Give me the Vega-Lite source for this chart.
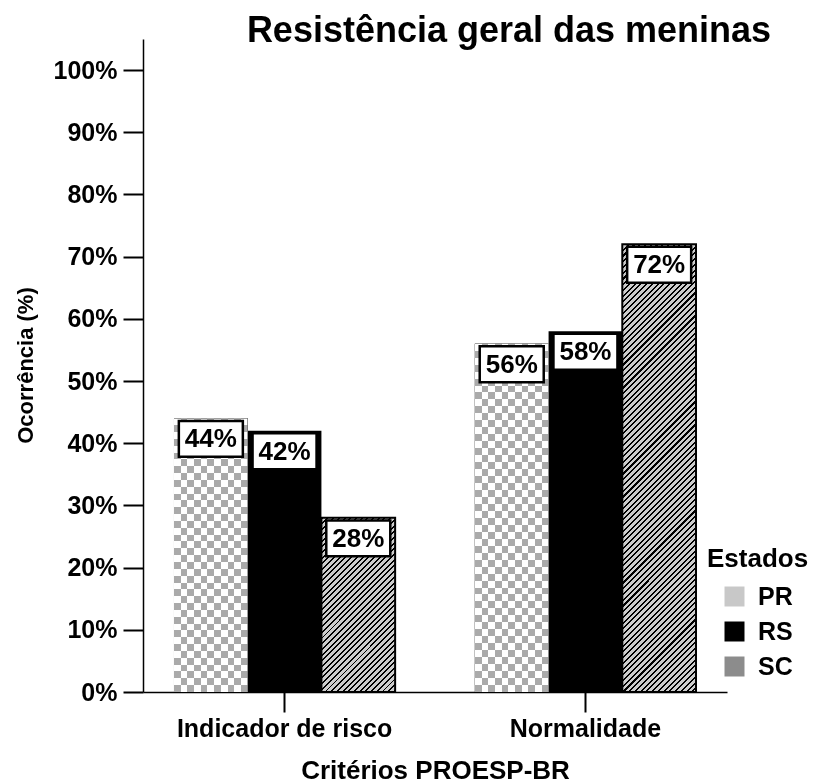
{
  "$schema": "https://vega.github.io/schema/vega-lite/v6.json",
  "autosize": "none",
  "width": 584,
  "height": 653,
  "padding": {"left": 143, "top": 39, "right": 86, "bottom": 91},
  "background": "white",
  "config": {"view": {"stroke": null}},
  "title": {"text": "Resistência geral das meninas", "font": "Liberation Sans", "fontSize": 36, "fontWeight": "bold", "color": "black", "anchor": "middle", "frame": "group", "dx": 74, "baseline": "alphabetic", "offset": 0, "dy": 39},
  "data": {"values": [
    {"criterio": "Indicador de risco", "estado": "PR", "valor": 0.44},
    {"criterio": "Indicador de risco", "estado": "RS", "valor": 0.42},
    {"criterio": "Indicador de risco", "estado": "SC", "valor": 0.28},
    {"criterio": "Normalidade", "estado": "PR", "valor": 0.56},
    {"criterio": "Normalidade", "estado": "RS", "valor": 0.58},
    {"criterio": "Normalidade", "estado": "SC", "valor": 0.72}
  ]},
  "encoding": {
    "x": {"field": "criterio", "type": "nominal", "sort": ["Indicador de risco", "Normalidade"], "scale": {"paddingInner": 0.265, "paddingOuter": 0.103}, "title": "Critérios PROESP-BR",
      "axis": {"labelAngle": 0, "labelLimit": 0, "tickSize": 20, "tickWidth": 2, "tickColor": "black", "domainColor": "black", "domainWidth": 1.5, "labelFont": "Liberation Sans", "labelFontSize": 25, "labelFontWeight": "bold", "labelColor": "black", "labelPadding": 4, "titleFont": "Liberation Sans", "titleFontSize": 26, "titleFontWeight": "bold", "titleColor": "black", "titleY": 78, "titleBaseline": "middle"}},
    "xOffset": {"field": "estado", "type": "nominal", "sort": ["PR", "RS", "SC"], "scale": {"paddingInner": 0, "paddingOuter": 0}},
    "y": {"field": "valor", "type": "quantitative", "scale": {"domain": [0, 1.05], "nice": false}, "title": "Ocorrência (%)",
      "axis": {"values": [0, 0.1, 0.2, 0.3, 0.4, 0.5, 0.6, 0.7, 0.8, 0.9, 1], "format": ".0%", "grid": false, "tickSize": 20, "tickWidth": 2, "tickColor": "black", "domainColor": "black", "domainWidth": 1.5, "labelFont": "Liberation Sans", "labelFontSize": 25, "labelFontWeight": "bold", "labelColor": "black", "labelPadding": 6, "titleFont": "Liberation Sans", "titleFontSize": 22, "titleFontWeight": "bold", "titleColor": "black", "titleX": -118, "titleY": 326, "titleBaseline": "middle", "titleAngle": -90}}
  },
  "layer": [
    {
      "transform": [{"filter": "datum.estado !== 'PR'"}],
      "mark": {"type": "bar"},
      "encoding": {
        "color": {"field": "estado", "type": "nominal", "scale": {"domain": ["PR", "RS", "SC"], "range": ["#c8c8c8", "#000000", "#8c8c8c"]},
          "legend": {"orient": "none", "legendX": 564, "legendY": 507, "title": "Estados", "titleFont": "Liberation Sans", "titleFontSize": 26, "titleFontWeight": "bold", "titleColor": "black", "titlePadding": 12, "labelFont": "Liberation Sans", "labelFontSize": 25, "labelFontWeight": "bold", "labelColor": "black", "symbolType": "square", "symbolSize": 400, "symbolOffset": 15, "labelOffset": 11, "rowPadding": 9}}
      }
    },
    {
      "transform": [{"filter": "datum.estado === 'PR'"}],
      "mark": {"type": "bar"},
      "encoding": {"fill": {"value": {"gradient": "linear", "x1": 0, "y1": 0, "x2": 1, "y2": 0, "stops": [{"offset":0,"color":"#555"},{"offset":0.0909,"color":"#555"},{"offset":0.0909,"color":"#000"},{"offset":0.1818,"color":"#000"},{"offset":0.1818,"color":"#555"},{"offset":0.2727,"color":"#555"},{"offset":0.2727,"color":"#000"},{"offset":0.3636,"color":"#000"},{"offset":0.3636,"color":"#555"},{"offset":0.4545,"color":"#555"},{"offset":0.4545,"color":"#000"},{"offset":0.5455,"color":"#000"},{"offset":0.5455,"color":"#555"},{"offset":0.6364,"color":"#555"},{"offset":0.6364,"color":"#000"},{"offset":0.7273,"color":"#000"},{"offset":0.7273,"color":"#555"},{"offset":0.8182,"color":"#555"},{"offset":0.8182,"color":"#000"},{"offset":0.9091,"color":"#000"},{"offset":0.9091,"color":"#555"},{"offset":1,"color":"#555"}]}}}
    },
    {
      "transform": [{"filter": "datum.estado === 'PR'"}],
      "mark": {"type": "bar", "blend": "difference"},
      "encoding": {"fill": {
        "condition": {"test": "datum.criterio === 'Normalidade'", "value": {"gradient": "linear", "x1": 0, "y1": 0, "x2": 0, "y2": 1, "stops": [{"offset":0,"color":"#555"},{"offset":0.02,"color":"#555"},{"offset":0.02,"color":"#000"},{"offset":0.04,"color":"#000"},{"offset":0.04,"color":"#555"},{"offset":0.06,"color":"#555"},{"offset":0.06,"color":"#000"},{"offset":0.08,"color":"#000"},{"offset":0.08,"color":"#555"},{"offset":0.1,"color":"#555"},{"offset":0.1,"color":"#000"},{"offset":0.12,"color":"#000"},{"offset":0.12,"color":"#555"},{"offset":0.14,"color":"#555"},{"offset":0.14,"color":"#000"},{"offset":0.16,"color":"#000"},{"offset":0.16,"color":"#555"},{"offset":0.18,"color":"#555"},{"offset":0.18,"color":"#000"},{"offset":0.2,"color":"#000"},{"offset":0.2,"color":"#555"},{"offset":0.22,"color":"#555"},{"offset":0.22,"color":"#000"},{"offset":0.24,"color":"#000"},{"offset":0.24,"color":"#555"},{"offset":0.26,"color":"#555"},{"offset":0.26,"color":"#000"},{"offset":0.28,"color":"#000"},{"offset":0.28,"color":"#555"},{"offset":0.3,"color":"#555"},{"offset":0.3,"color":"#000"},{"offset":0.32,"color":"#000"},{"offset":0.32,"color":"#555"},{"offset":0.34,"color":"#555"},{"offset":0.34,"color":"#000"},{"offset":0.36,"color":"#000"},{"offset":0.36,"color":"#555"},{"offset":0.38,"color":"#555"},{"offset":0.38,"color":"#000"},{"offset":0.4,"color":"#000"},{"offset":0.4,"color":"#555"},{"offset":0.42,"color":"#555"},{"offset":0.42,"color":"#000"},{"offset":0.44,"color":"#000"},{"offset":0.44,"color":"#555"},{"offset":0.46,"color":"#555"},{"offset":0.46,"color":"#000"},{"offset":0.48,"color":"#000"},{"offset":0.48,"color":"#555"},{"offset":0.5,"color":"#555"},{"offset":0.5,"color":"#000"},{"offset":0.52,"color":"#000"},{"offset":0.52,"color":"#555"},{"offset":0.54,"color":"#555"},{"offset":0.54,"color":"#000"},{"offset":0.56,"color":"#000"},{"offset":0.56,"color":"#555"},{"offset":0.58,"color":"#555"},{"offset":0.58,"color":"#000"},{"offset":0.6,"color":"#000"},{"offset":0.6,"color":"#555"},{"offset":0.62,"color":"#555"},{"offset":0.62,"color":"#000"},{"offset":0.64,"color":"#000"},{"offset":0.64,"color":"#555"},{"offset":0.66,"color":"#555"},{"offset":0.66,"color":"#000"},{"offset":0.68,"color":"#000"},{"offset":0.68,"color":"#555"},{"offset":0.7,"color":"#555"},{"offset":0.7,"color":"#000"},{"offset":0.72,"color":"#000"},{"offset":0.72,"color":"#555"},{"offset":0.74,"color":"#555"},{"offset":0.74,"color":"#000"},{"offset":0.76,"color":"#000"},{"offset":0.76,"color":"#555"},{"offset":0.78,"color":"#555"},{"offset":0.78,"color":"#000"},{"offset":0.8,"color":"#000"},{"offset":0.8,"color":"#555"},{"offset":0.82,"color":"#555"},{"offset":0.82,"color":"#000"},{"offset":0.84,"color":"#000"},{"offset":0.84,"color":"#555"},{"offset":0.86,"color":"#555"},{"offset":0.86,"color":"#000"},{"offset":0.88,"color":"#000"},{"offset":0.88,"color":"#555"},{"offset":0.9,"color":"#555"},{"offset":0.9,"color":"#000"},{"offset":0.92,"color":"#000"},{"offset":0.92,"color":"#555"},{"offset":0.94,"color":"#555"},{"offset":0.94,"color":"#000"},{"offset":0.96,"color":"#000"},{"offset":0.96,"color":"#555"},{"offset":0.98,"color":"#555"},{"offset":0.98,"color":"#000"},{"offset":1,"color":"#000"}]}},
        "value": {"gradient": "linear", "x1": 0, "y1": 0, "x2": 0, "y2": 1, "stops": [{"offset":0,"color":"#555"},{"offset":0.025,"color":"#555"},{"offset":0.025,"color":"#000"},{"offset":0.05,"color":"#000"},{"offset":0.05,"color":"#555"},{"offset":0.075,"color":"#555"},{"offset":0.075,"color":"#000"},{"offset":0.1,"color":"#000"},{"offset":0.1,"color":"#555"},{"offset":0.125,"color":"#555"},{"offset":0.125,"color":"#000"},{"offset":0.15,"color":"#000"},{"offset":0.15,"color":"#555"},{"offset":0.175,"color":"#555"},{"offset":0.175,"color":"#000"},{"offset":0.2,"color":"#000"},{"offset":0.2,"color":"#555"},{"offset":0.225,"color":"#555"},{"offset":0.225,"color":"#000"},{"offset":0.25,"color":"#000"},{"offset":0.25,"color":"#555"},{"offset":0.275,"color":"#555"},{"offset":0.275,"color":"#000"},{"offset":0.3,"color":"#000"},{"offset":0.3,"color":"#555"},{"offset":0.325,"color":"#555"},{"offset":0.325,"color":"#000"},{"offset":0.35,"color":"#000"},{"offset":0.35,"color":"#555"},{"offset":0.375,"color":"#555"},{"offset":0.375,"color":"#000"},{"offset":0.4,"color":"#000"},{"offset":0.4,"color":"#555"},{"offset":0.425,"color":"#555"},{"offset":0.425,"color":"#000"},{"offset":0.45,"color":"#000"},{"offset":0.45,"color":"#555"},{"offset":0.475,"color":"#555"},{"offset":0.475,"color":"#000"},{"offset":0.5,"color":"#000"},{"offset":0.5,"color":"#555"},{"offset":0.525,"color":"#555"},{"offset":0.525,"color":"#000"},{"offset":0.55,"color":"#000"},{"offset":0.55,"color":"#555"},{"offset":0.575,"color":"#555"},{"offset":0.575,"color":"#000"},{"offset":0.6,"color":"#000"},{"offset":0.6,"color":"#555"},{"offset":0.625,"color":"#555"},{"offset":0.625,"color":"#000"},{"offset":0.65,"color":"#000"},{"offset":0.65,"color":"#555"},{"offset":0.675,"color":"#555"},{"offset":0.675,"color":"#000"},{"offset":0.7,"color":"#000"},{"offset":0.7,"color":"#555"},{"offset":0.725,"color":"#555"},{"offset":0.725,"color":"#000"},{"offset":0.75,"color":"#000"},{"offset":0.75,"color":"#555"},{"offset":0.775,"color":"#555"},{"offset":0.775,"color":"#000"},{"offset":0.8,"color":"#000"},{"offset":0.8,"color":"#555"},{"offset":0.825,"color":"#555"},{"offset":0.825,"color":"#000"},{"offset":0.85,"color":"#000"},{"offset":0.85,"color":"#555"},{"offset":0.875,"color":"#555"},{"offset":0.875,"color":"#000"},{"offset":0.9,"color":"#000"},{"offset":0.9,"color":"#555"},{"offset":0.925,"color":"#555"},{"offset":0.925,"color":"#000"},{"offset":0.95,"color":"#000"},{"offset":0.95,"color":"#555"},{"offset":0.975,"color":"#555"},{"offset":0.975,"color":"#000"},{"offset":1,"color":"#000"}]}
      }}
    },
    {
      "transform": [{"filter": "datum.estado === 'PR'"}],
      "mark": {"type": "bar", "blend": "difference"},
      "encoding": {"fill": {"value": "#ffffff"}}
    },
    {
      "transform": [{"filter": "datum.estado === 'SC'"}],
      "mark": {"type": "bar", "stroke": "black", "strokeWidth": 2},
      "encoding": {"fill": {
        "condition": {"test": "datum.criterio === 'Normalidade'", "value": {"gradient": "linear", "x1": 0, "y1": 0, "x2": 0.1867, "y2": 1.1339, "stops": [{"offset":0,"color":"#000"},{"offset":0.004,"color":"#000"},{"offset":0.004,"color":"#ccc"},{"offset":0.011,"color":"#ccc"},{"offset":0.011,"color":"#000"},{"offset":0.015,"color":"#000"},{"offset":0.015,"color":"#ccc"},{"offset":0.022,"color":"#ccc"},{"offset":0.022,"color":"#000"},{"offset":0.026,"color":"#000"},{"offset":0.026,"color":"#ccc"},{"offset":0.033,"color":"#ccc"},{"offset":0.033,"color":"#000"},{"offset":0.037,"color":"#000"},{"offset":0.037,"color":"#ccc"},{"offset":0.044,"color":"#ccc"},{"offset":0.044,"color":"#000"},{"offset":0.048,"color":"#000"},{"offset":0.048,"color":"#ccc"},{"offset":0.055,"color":"#ccc"},{"offset":0.055,"color":"#000"},{"offset":0.059,"color":"#000"},{"offset":0.059,"color":"#ccc"},{"offset":0.066,"color":"#ccc"},{"offset":0.066,"color":"#000"},{"offset":0.07,"color":"#000"},{"offset":0.07,"color":"#ccc"},{"offset":0.077,"color":"#ccc"},{"offset":0.077,"color":"#000"},{"offset":0.081,"color":"#000"},{"offset":0.081,"color":"#ccc"},{"offset":0.088,"color":"#ccc"},{"offset":0.088,"color":"#000"},{"offset":0.092,"color":"#000"},{"offset":0.092,"color":"#ccc"},{"offset":0.099,"color":"#ccc"},{"offset":0.099,"color":"#000"},{"offset":0.103,"color":"#000"},{"offset":0.103,"color":"#ccc"},{"offset":0.11,"color":"#ccc"},{"offset":0.11,"color":"#000"},{"offset":0.114,"color":"#000"},{"offset":0.114,"color":"#ccc"},{"offset":0.121,"color":"#ccc"},{"offset":0.121,"color":"#000"},{"offset":0.125,"color":"#000"},{"offset":0.125,"color":"#ccc"},{"offset":0.132,"color":"#ccc"},{"offset":0.132,"color":"#000"},{"offset":0.136,"color":"#000"},{"offset":0.136,"color":"#ccc"},{"offset":0.143,"color":"#ccc"},{"offset":0.143,"color":"#000"},{"offset":0.147,"color":"#000"},{"offset":0.147,"color":"#ccc"},{"offset":0.154,"color":"#ccc"},{"offset":0.154,"color":"#000"},{"offset":0.158,"color":"#000"},{"offset":0.158,"color":"#ccc"},{"offset":0.165,"color":"#ccc"},{"offset":0.165,"color":"#000"},{"offset":0.169,"color":"#000"},{"offset":0.169,"color":"#ccc"},{"offset":0.176,"color":"#ccc"},{"offset":0.176,"color":"#000"},{"offset":0.18,"color":"#000"},{"offset":0.18,"color":"#ccc"},{"offset":0.187,"color":"#ccc"},{"offset":0.187,"color":"#000"},{"offset":0.191,"color":"#000"},{"offset":0.191,"color":"#ccc"},{"offset":0.198,"color":"#ccc"},{"offset":0.198,"color":"#000"},{"offset":0.202,"color":"#000"},{"offset":0.202,"color":"#ccc"},{"offset":0.209,"color":"#ccc"},{"offset":0.209,"color":"#000"},{"offset":0.213,"color":"#000"},{"offset":0.213,"color":"#ccc"},{"offset":0.22,"color":"#ccc"},{"offset":0.22,"color":"#000"},{"offset":0.224,"color":"#000"},{"offset":0.224,"color":"#ccc"},{"offset":0.231,"color":"#ccc"},{"offset":0.231,"color":"#000"},{"offset":0.235,"color":"#000"},{"offset":0.235,"color":"#ccc"},{"offset":0.242,"color":"#ccc"},{"offset":0.242,"color":"#000"},{"offset":0.246,"color":"#000"},{"offset":0.246,"color":"#ccc"},{"offset":0.253,"color":"#ccc"},{"offset":0.253,"color":"#000"},{"offset":0.257,"color":"#000"},{"offset":0.257,"color":"#ccc"},{"offset":0.264,"color":"#ccc"},{"offset":0.264,"color":"#000"},{"offset":0.268,"color":"#000"},{"offset":0.268,"color":"#ccc"},{"offset":0.275,"color":"#ccc"},{"offset":0.275,"color":"#000"},{"offset":0.279,"color":"#000"},{"offset":0.279,"color":"#ccc"},{"offset":0.286,"color":"#ccc"},{"offset":0.286,"color":"#000"},{"offset":0.29,"color":"#000"},{"offset":0.29,"color":"#ccc"},{"offset":0.297,"color":"#ccc"},{"offset":0.297,"color":"#000"},{"offset":0.301,"color":"#000"},{"offset":0.301,"color":"#ccc"},{"offset":0.308,"color":"#ccc"},{"offset":0.308,"color":"#000"},{"offset":0.312,"color":"#000"},{"offset":0.312,"color":"#ccc"},{"offset":0.319,"color":"#ccc"},{"offset":0.319,"color":"#000"},{"offset":0.323,"color":"#000"},{"offset":0.323,"color":"#ccc"},{"offset":0.33,"color":"#ccc"},{"offset":0.33,"color":"#000"},{"offset":0.334,"color":"#000"},{"offset":0.334,"color":"#ccc"},{"offset":0.341,"color":"#ccc"},{"offset":0.341,"color":"#000"},{"offset":0.345,"color":"#000"},{"offset":0.345,"color":"#ccc"},{"offset":0.352,"color":"#ccc"},{"offset":0.352,"color":"#000"},{"offset":0.356,"color":"#000"},{"offset":0.356,"color":"#ccc"},{"offset":0.363,"color":"#ccc"},{"offset":0.363,"color":"#000"},{"offset":0.367,"color":"#000"},{"offset":0.367,"color":"#ccc"},{"offset":0.374,"color":"#ccc"},{"offset":0.374,"color":"#000"},{"offset":0.378,"color":"#000"},{"offset":0.378,"color":"#ccc"},{"offset":0.385,"color":"#ccc"},{"offset":0.385,"color":"#000"},{"offset":0.389,"color":"#000"},{"offset":0.389,"color":"#ccc"},{"offset":0.396,"color":"#ccc"},{"offset":0.396,"color":"#000"},{"offset":0.4,"color":"#000"},{"offset":0.4,"color":"#ccc"},{"offset":0.407,"color":"#ccc"},{"offset":0.407,"color":"#000"},{"offset":0.411,"color":"#000"},{"offset":0.411,"color":"#ccc"},{"offset":0.418,"color":"#ccc"},{"offset":0.418,"color":"#000"},{"offset":0.422,"color":"#000"},{"offset":0.422,"color":"#ccc"},{"offset":0.429,"color":"#ccc"},{"offset":0.429,"color":"#000"},{"offset":0.433,"color":"#000"},{"offset":0.433,"color":"#ccc"},{"offset":0.44,"color":"#ccc"},{"offset":0.44,"color":"#000"},{"offset":0.444,"color":"#000"},{"offset":0.444,"color":"#ccc"},{"offset":0.451,"color":"#ccc"},{"offset":0.451,"color":"#000"},{"offset":0.455,"color":"#000"},{"offset":0.455,"color":"#ccc"},{"offset":0.462,"color":"#ccc"},{"offset":0.462,"color":"#000"},{"offset":0.466,"color":"#000"},{"offset":0.466,"color":"#ccc"},{"offset":0.473,"color":"#ccc"},{"offset":0.473,"color":"#000"},{"offset":0.477,"color":"#000"},{"offset":0.477,"color":"#ccc"},{"offset":0.484,"color":"#ccc"},{"offset":0.484,"color":"#000"},{"offset":0.488,"color":"#000"},{"offset":0.488,"color":"#ccc"},{"offset":0.495,"color":"#ccc"},{"offset":0.495,"color":"#000"},{"offset":0.499,"color":"#000"},{"offset":0.499,"color":"#ccc"},{"offset":0.506,"color":"#ccc"},{"offset":0.506,"color":"#000"},{"offset":0.51,"color":"#000"},{"offset":0.51,"color":"#ccc"},{"offset":0.517,"color":"#ccc"},{"offset":0.517,"color":"#000"},{"offset":0.521,"color":"#000"},{"offset":0.521,"color":"#ccc"},{"offset":0.528,"color":"#ccc"},{"offset":0.528,"color":"#000"},{"offset":0.532,"color":"#000"},{"offset":0.532,"color":"#ccc"},{"offset":0.539,"color":"#ccc"},{"offset":0.539,"color":"#000"},{"offset":0.543,"color":"#000"},{"offset":0.543,"color":"#ccc"},{"offset":0.55,"color":"#ccc"},{"offset":0.55,"color":"#000"},{"offset":0.554,"color":"#000"},{"offset":0.554,"color":"#ccc"},{"offset":0.561,"color":"#ccc"},{"offset":0.561,"color":"#000"},{"offset":0.565,"color":"#000"},{"offset":0.565,"color":"#ccc"},{"offset":0.572,"color":"#ccc"},{"offset":0.572,"color":"#000"},{"offset":0.576,"color":"#000"},{"offset":0.576,"color":"#ccc"},{"offset":0.583,"color":"#ccc"},{"offset":0.583,"color":"#000"},{"offset":0.587,"color":"#000"},{"offset":0.587,"color":"#ccc"},{"offset":0.594,"color":"#ccc"},{"offset":0.594,"color":"#000"},{"offset":0.598,"color":"#000"},{"offset":0.598,"color":"#ccc"},{"offset":0.605,"color":"#ccc"},{"offset":0.605,"color":"#000"},{"offset":0.609,"color":"#000"},{"offset":0.609,"color":"#ccc"},{"offset":0.616,"color":"#ccc"},{"offset":0.616,"color":"#000"},{"offset":0.62,"color":"#000"},{"offset":0.62,"color":"#ccc"},{"offset":0.627,"color":"#ccc"},{"offset":0.627,"color":"#000"},{"offset":0.631,"color":"#000"},{"offset":0.631,"color":"#ccc"},{"offset":0.638,"color":"#ccc"},{"offset":0.638,"color":"#000"},{"offset":0.642,"color":"#000"},{"offset":0.642,"color":"#ccc"},{"offset":0.649,"color":"#ccc"},{"offset":0.649,"color":"#000"},{"offset":0.653,"color":"#000"},{"offset":0.653,"color":"#ccc"},{"offset":0.66,"color":"#ccc"},{"offset":0.66,"color":"#000"},{"offset":0.664,"color":"#000"},{"offset":0.664,"color":"#ccc"},{"offset":0.671,"color":"#ccc"},{"offset":0.671,"color":"#000"},{"offset":0.675,"color":"#000"},{"offset":0.675,"color":"#ccc"},{"offset":0.682,"color":"#ccc"},{"offset":0.682,"color":"#000"},{"offset":0.686,"color":"#000"},{"offset":0.686,"color":"#ccc"},{"offset":0.693,"color":"#ccc"},{"offset":0.693,"color":"#000"},{"offset":0.697,"color":"#000"},{"offset":0.697,"color":"#ccc"},{"offset":0.704,"color":"#ccc"},{"offset":0.704,"color":"#000"},{"offset":0.708,"color":"#000"},{"offset":0.708,"color":"#ccc"},{"offset":0.715,"color":"#ccc"},{"offset":0.715,"color":"#000"},{"offset":0.719,"color":"#000"},{"offset":0.719,"color":"#ccc"},{"offset":0.726,"color":"#ccc"},{"offset":0.726,"color":"#000"},{"offset":0.73,"color":"#000"},{"offset":0.73,"color":"#ccc"},{"offset":0.737,"color":"#ccc"},{"offset":0.737,"color":"#000"},{"offset":0.741,"color":"#000"},{"offset":0.741,"color":"#ccc"},{"offset":0.748,"color":"#ccc"},{"offset":0.748,"color":"#000"},{"offset":0.752,"color":"#000"},{"offset":0.752,"color":"#ccc"},{"offset":0.759,"color":"#ccc"},{"offset":0.759,"color":"#000"},{"offset":0.763,"color":"#000"},{"offset":0.763,"color":"#ccc"},{"offset":0.77,"color":"#ccc"},{"offset":0.77,"color":"#000"},{"offset":0.774,"color":"#000"},{"offset":0.774,"color":"#ccc"},{"offset":0.781,"color":"#ccc"},{"offset":0.781,"color":"#000"},{"offset":0.785,"color":"#000"},{"offset":0.785,"color":"#ccc"},{"offset":0.792,"color":"#ccc"},{"offset":0.792,"color":"#000"},{"offset":0.796,"color":"#000"},{"offset":0.796,"color":"#ccc"},{"offset":0.803,"color":"#ccc"},{"offset":0.803,"color":"#000"},{"offset":0.807,"color":"#000"},{"offset":0.807,"color":"#ccc"},{"offset":0.814,"color":"#ccc"},{"offset":0.814,"color":"#000"},{"offset":0.818,"color":"#000"},{"offset":0.818,"color":"#ccc"},{"offset":0.825,"color":"#ccc"},{"offset":0.825,"color":"#000"},{"offset":0.829,"color":"#000"},{"offset":0.829,"color":"#ccc"},{"offset":0.836,"color":"#ccc"},{"offset":0.836,"color":"#000"},{"offset":0.84,"color":"#000"},{"offset":0.84,"color":"#ccc"},{"offset":0.847,"color":"#ccc"},{"offset":0.847,"color":"#000"},{"offset":0.851,"color":"#000"},{"offset":0.851,"color":"#ccc"},{"offset":0.858,"color":"#ccc"},{"offset":0.858,"color":"#000"},{"offset":0.862,"color":"#000"},{"offset":0.862,"color":"#ccc"},{"offset":0.869,"color":"#ccc"},{"offset":0.869,"color":"#000"},{"offset":0.873,"color":"#000"},{"offset":0.873,"color":"#ccc"},{"offset":0.88,"color":"#ccc"},{"offset":0.88,"color":"#000"},{"offset":0.884,"color":"#000"},{"offset":0.884,"color":"#ccc"},{"offset":0.891,"color":"#ccc"},{"offset":0.891,"color":"#000"},{"offset":0.895,"color":"#000"},{"offset":0.895,"color":"#ccc"},{"offset":0.902,"color":"#ccc"},{"offset":0.902,"color":"#000"},{"offset":0.906,"color":"#000"},{"offset":0.906,"color":"#ccc"},{"offset":0.913,"color":"#ccc"},{"offset":0.913,"color":"#000"},{"offset":0.917,"color":"#000"},{"offset":0.917,"color":"#ccc"},{"offset":0.924,"color":"#ccc"},{"offset":0.924,"color":"#000"},{"offset":0.928,"color":"#000"},{"offset":0.928,"color":"#ccc"},{"offset":0.935,"color":"#ccc"},{"offset":0.935,"color":"#000"},{"offset":0.939,"color":"#000"},{"offset":0.939,"color":"#ccc"},{"offset":0.946,"color":"#ccc"},{"offset":0.946,"color":"#000"},{"offset":0.95,"color":"#000"},{"offset":0.95,"color":"#ccc"},{"offset":0.957,"color":"#ccc"},{"offset":0.957,"color":"#000"},{"offset":0.961,"color":"#000"},{"offset":0.961,"color":"#ccc"},{"offset":0.968,"color":"#ccc"},{"offset":0.968,"color":"#000"},{"offset":0.972,"color":"#000"},{"offset":0.972,"color":"#ccc"},{"offset":0.979,"color":"#ccc"},{"offset":0.979,"color":"#000"},{"offset":0.983,"color":"#000"},{"offset":0.983,"color":"#ccc"},{"offset":0.99,"color":"#ccc"},{"offset":0.99,"color":"#000"},{"offset":0.994,"color":"#000"},{"offset":0.994,"color":"#ccc"},{"offset":1,"color":"#ccc"}]}},
        "value": {"gradient": "linear", "x1": 0, "y1": 0, "x2": 0.5111, "y2": 1.207, "stops": [{"offset":0,"color":"#000"},{"offset":0.008,"color":"#000"},{"offset":0.008,"color":"#ccc"},{"offset":0.023,"color":"#ccc"},{"offset":0.023,"color":"#000"},{"offset":0.031,"color":"#000"},{"offset":0.031,"color":"#ccc"},{"offset":0.046,"color":"#ccc"},{"offset":0.046,"color":"#000"},{"offset":0.054,"color":"#000"},{"offset":0.054,"color":"#ccc"},{"offset":0.069,"color":"#ccc"},{"offset":0.069,"color":"#000"},{"offset":0.077,"color":"#000"},{"offset":0.077,"color":"#ccc"},{"offset":0.092,"color":"#ccc"},{"offset":0.092,"color":"#000"},{"offset":0.1,"color":"#000"},{"offset":0.1,"color":"#ccc"},{"offset":0.115,"color":"#ccc"},{"offset":0.115,"color":"#000"},{"offset":0.123,"color":"#000"},{"offset":0.123,"color":"#ccc"},{"offset":0.138,"color":"#ccc"},{"offset":0.138,"color":"#000"},{"offset":0.146,"color":"#000"},{"offset":0.146,"color":"#ccc"},{"offset":0.161,"color":"#ccc"},{"offset":0.161,"color":"#000"},{"offset":0.169,"color":"#000"},{"offset":0.169,"color":"#ccc"},{"offset":0.184,"color":"#ccc"},{"offset":0.184,"color":"#000"},{"offset":0.192,"color":"#000"},{"offset":0.192,"color":"#ccc"},{"offset":0.207,"color":"#ccc"},{"offset":0.207,"color":"#000"},{"offset":0.215,"color":"#000"},{"offset":0.215,"color":"#ccc"},{"offset":0.23,"color":"#ccc"},{"offset":0.23,"color":"#000"},{"offset":0.238,"color":"#000"},{"offset":0.238,"color":"#ccc"},{"offset":0.253,"color":"#ccc"},{"offset":0.253,"color":"#000"},{"offset":0.261,"color":"#000"},{"offset":0.261,"color":"#ccc"},{"offset":0.276,"color":"#ccc"},{"offset":0.276,"color":"#000"},{"offset":0.284,"color":"#000"},{"offset":0.284,"color":"#ccc"},{"offset":0.299,"color":"#ccc"},{"offset":0.299,"color":"#000"},{"offset":0.307,"color":"#000"},{"offset":0.307,"color":"#ccc"},{"offset":0.322,"color":"#ccc"},{"offset":0.322,"color":"#000"},{"offset":0.33,"color":"#000"},{"offset":0.33,"color":"#ccc"},{"offset":0.345,"color":"#ccc"},{"offset":0.345,"color":"#000"},{"offset":0.353,"color":"#000"},{"offset":0.353,"color":"#ccc"},{"offset":0.368,"color":"#ccc"},{"offset":0.368,"color":"#000"},{"offset":0.376,"color":"#000"},{"offset":0.376,"color":"#ccc"},{"offset":0.391,"color":"#ccc"},{"offset":0.391,"color":"#000"},{"offset":0.399,"color":"#000"},{"offset":0.399,"color":"#ccc"},{"offset":0.414,"color":"#ccc"},{"offset":0.414,"color":"#000"},{"offset":0.422,"color":"#000"},{"offset":0.422,"color":"#ccc"},{"offset":0.437,"color":"#ccc"},{"offset":0.437,"color":"#000"},{"offset":0.445,"color":"#000"},{"offset":0.445,"color":"#ccc"},{"offset":0.46,"color":"#ccc"},{"offset":0.46,"color":"#000"},{"offset":0.468,"color":"#000"},{"offset":0.468,"color":"#ccc"},{"offset":0.483,"color":"#ccc"},{"offset":0.483,"color":"#000"},{"offset":0.491,"color":"#000"},{"offset":0.491,"color":"#ccc"},{"offset":0.506,"color":"#ccc"},{"offset":0.506,"color":"#000"},{"offset":0.514,"color":"#000"},{"offset":0.514,"color":"#ccc"},{"offset":0.529,"color":"#ccc"},{"offset":0.529,"color":"#000"},{"offset":0.537,"color":"#000"},{"offset":0.537,"color":"#ccc"},{"offset":0.552,"color":"#ccc"},{"offset":0.552,"color":"#000"},{"offset":0.56,"color":"#000"},{"offset":0.56,"color":"#ccc"},{"offset":0.575,"color":"#ccc"},{"offset":0.575,"color":"#000"},{"offset":0.583,"color":"#000"},{"offset":0.583,"color":"#ccc"},{"offset":0.598,"color":"#ccc"},{"offset":0.598,"color":"#000"},{"offset":0.606,"color":"#000"},{"offset":0.606,"color":"#ccc"},{"offset":0.621,"color":"#ccc"},{"offset":0.621,"color":"#000"},{"offset":0.629,"color":"#000"},{"offset":0.629,"color":"#ccc"},{"offset":0.644,"color":"#ccc"},{"offset":0.644,"color":"#000"},{"offset":0.652,"color":"#000"},{"offset":0.652,"color":"#ccc"},{"offset":0.667,"color":"#ccc"},{"offset":0.667,"color":"#000"},{"offset":0.675,"color":"#000"},{"offset":0.675,"color":"#ccc"},{"offset":0.69,"color":"#ccc"},{"offset":0.69,"color":"#000"},{"offset":0.698,"color":"#000"},{"offset":0.698,"color":"#ccc"},{"offset":0.713,"color":"#ccc"},{"offset":0.713,"color":"#000"},{"offset":0.721,"color":"#000"},{"offset":0.721,"color":"#ccc"},{"offset":0.736,"color":"#ccc"},{"offset":0.736,"color":"#000"},{"offset":0.744,"color":"#000"},{"offset":0.744,"color":"#ccc"},{"offset":0.759,"color":"#ccc"},{"offset":0.759,"color":"#000"},{"offset":0.767,"color":"#000"},{"offset":0.767,"color":"#ccc"},{"offset":0.782,"color":"#ccc"},{"offset":0.782,"color":"#000"},{"offset":0.79,"color":"#000"},{"offset":0.79,"color":"#ccc"},{"offset":0.805,"color":"#ccc"},{"offset":0.805,"color":"#000"},{"offset":0.813,"color":"#000"},{"offset":0.813,"color":"#ccc"},{"offset":0.828,"color":"#ccc"},{"offset":0.828,"color":"#000"},{"offset":0.836,"color":"#000"},{"offset":0.836,"color":"#ccc"},{"offset":0.851,"color":"#ccc"},{"offset":0.851,"color":"#000"},{"offset":0.859,"color":"#000"},{"offset":0.859,"color":"#ccc"},{"offset":0.874,"color":"#ccc"},{"offset":0.874,"color":"#000"},{"offset":0.882,"color":"#000"},{"offset":0.882,"color":"#ccc"},{"offset":0.897,"color":"#ccc"},{"offset":0.897,"color":"#000"},{"offset":0.905,"color":"#000"},{"offset":0.905,"color":"#ccc"},{"offset":0.92,"color":"#ccc"},{"offset":0.92,"color":"#000"},{"offset":0.928,"color":"#000"},{"offset":0.928,"color":"#ccc"},{"offset":0.943,"color":"#ccc"},{"offset":0.943,"color":"#000"},{"offset":0.951,"color":"#000"},{"offset":0.951,"color":"#ccc"},{"offset":0.966,"color":"#ccc"},{"offset":0.966,"color":"#000"},{"offset":0.974,"color":"#000"},{"offset":0.974,"color":"#ccc"},{"offset":0.989,"color":"#ccc"},{"offset":0.989,"color":"#000"},{"offset":0.997,"color":"#000"},{"offset":0.997,"color":"#ccc"},{"offset":1,"color":"#ccc"}]}
      }}
    },
    {
      "mark": {"type": "point", "shape": "M-1,0.08H1V1.2H-1Z", "size": 4096, "filled": true, "fill": "white", "stroke": "black", "strokeWidth": 2.5, "opacity": 1},
      "encoding": {}
    },
    {
      "mark": {"type": "text", "font": "Liberation Sans", "fontSize": 26, "fontWeight": "bold", "color": "black", "baseline": "middle", "dy": 21},
      "encoding": {"text": {"field": "valor", "type": "quantitative", "format": ".0%"}}
    }
  ]
}
